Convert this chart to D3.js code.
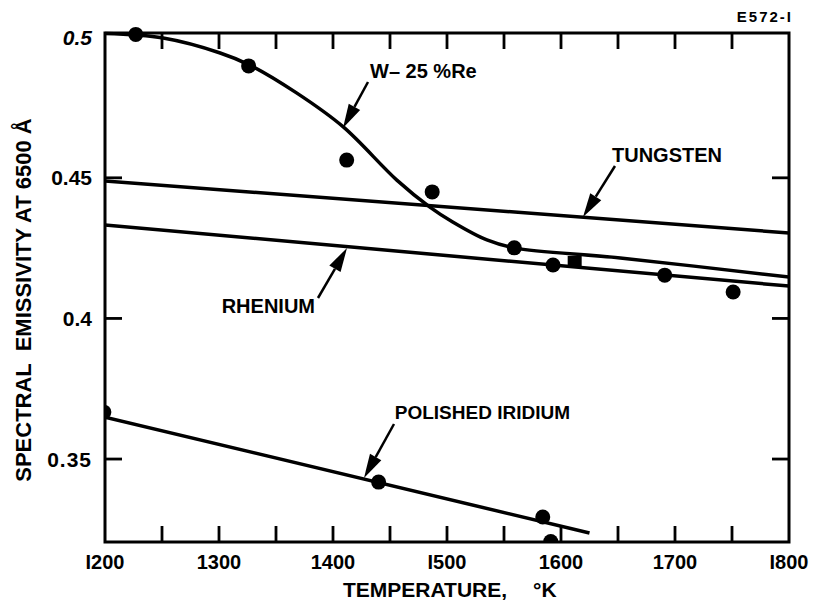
<!DOCTYPE html>
<html>
<head>
<meta charset="utf-8">
<script src="https://cdn.jsdelivr.net/npm/d3@7/dist/d3.min.js"></script>
<style>
  html, body { margin: 0; padding: 0; background: #fff; }
  svg { display: block; }
  text { font-family: "Liberation Sans", Arial, sans-serif; font-weight: bold; fill: #000; }
</style>
</head>
<body>
<svg id="chart" width="814" height="606"></svg>
<script>
// Axis ticks and labels
const xTickValues = [1200, 1300, 1400, 1500, 1600, 1700, 1800];
const xTickLabels = ["I200", "1300", "1400", "I500", "1600", "1700", "I800"];
const xMinorTicks = [1250, 1300, 1350, 1400, 1450, 1500, 1550, 1600, 1650, 1700, 1750];
const yTickValues = [0.5, 0.45, 0.4, 0.35];
const yTickLabels = ["0.5", "0.45", "0.4", "0.35"];

// Measured points (temperature K, emissivity)
const pointTemps = [1227, 1326, 1412, 1487, 1559, 1593, 1691, 1751];
const pointValues = [0.501, 0.4898, 0.4563, 0.445, 0.4251, 0.419, 0.4154, 0.4094];
const squareTemps = [1612];
const squareValues = [0.4201];
const iridiumTemps = [1199, 1440, 1584, 1591];
const iridiumValues = [0.3667, 0.3418, 0.3294, 0.3207];

// Fitted curve for W-25%Re
const wreCurveTemps = [1200, 1251, 1301, 1327, 1368, 1409, 1456, 1485, 1505, 1535, 1559, 1652, 1800];
const wreCurveValues = [0.5013, 0.4997, 0.4944, 0.4901, 0.4802, 0.4681, 0.4492, 0.4396, 0.4343, 0.4279, 0.4251, 0.4215, 0.4147];

// Straight-line fits
const tungstenTemps = [1200, 1800];
const tungstenValues = [0.4489, 0.4304];
const rheniumTemps = [1200, 1800];
const rheniumValues = [0.4332, 0.4115];
const iridiumLineTemps = [1200, 1625];
const iridiumLineValues = [0.3649, 0.3237];

const svg = d3.select("#chart");
const plotL = 105, plotR = 789, plotT = 33, plotB = 542;

const x = d3.scaleLinear().domain([1200, 1800]).range([plotL, plotR]);
const y = d3.scaleLinear().domain([0.3205, 0.5015]).range([plotB, plotT]);

svg.append("defs").append("clipPath").attr("id", "plotClip")
  .append("rect").attr("x", plotL).attr("y", plotT - 10)
  .attr("width", plotR - plotL).attr("height", plotB - plotT + 10);

const plot = svg.append("g");

// Inward ticks on all four sides
const tickLen = 16;
const ticks = svg.append("g").attr("stroke", "#000").attr("stroke-width", 2.8);
xMinorTicks.forEach(t => {
  ticks.append("line").attr("x1", x(t)).attr("x2", x(t)).attr("y1", plotT).attr("y2", plotT + tickLen);
  ticks.append("line").attr("x1", x(t)).attr("x2", x(t)).attr("y1", plotB).attr("y2", plotB - tickLen);
});
[0.45, 0.4, 0.35].forEach(v => {
  ticks.append("line").attr("x1", plotL).attr("x2", plotL + 17).attr("y1", y(v)).attr("y2", y(v));
  ticks.append("line").attr("x1", plotR).attr("x2", plotR - 17).attr("y1", y(v)).attr("y2", y(v));
});

// Frame
svg.append("rect").attr("x", plotL).attr("y", plotT)
  .attr("width", plotR - plotL).attr("height", plotB - plotT)
  .attr("fill", "none").attr("stroke", "#000").attr("stroke-width", 3);

// Lines
const zip = (a, b) => a.map((v, i) => [v, b[i]]);
const straight = d3.line().x(d => x(d[0])).y(d => y(d[1]));
const smooth = d3.line().x(d => x(d[0])).y(d => y(d[1])).curve(d3.curveCatmullRom);
const lines = plot.append("g").attr("clip-path", "url(#plotClip)")
  .attr("fill", "none").attr("stroke", "#000").attr("stroke-width", 3.5);
lines.append("path").attr("d", straight(zip(tungstenTemps, tungstenValues)));
lines.append("path").attr("d", straight(zip(rheniumTemps, rheniumValues)));
lines.append("path").attr("d", straight(zip(iridiumLineTemps, iridiumLineValues)));
lines.append("path").attr("d", smooth(zip(wreCurveTemps, wreCurveValues)));

// Points
const pts = plot.append("g").attr("clip-path", "url(#plotClip)").attr("fill", "#000");
pts.selectAll("circle.w").data(zip(pointTemps, pointValues)).join("circle").attr("class", "w")
  .attr("cx", d => x(d[0])).attr("cy", d => y(d[1])).attr("r", 7.5);
pts.selectAll("circle.ir").data(zip(iridiumTemps, iridiumValues)).join("circle").attr("class", "ir")
  .attr("cx", d => x(d[0])).attr("cy", d => y(d[1])).attr("r", 7.5);
pts.selectAll("rect.sq").data(zip(squareTemps, squareValues)).join("rect").attr("class", "sq")
  .attr("x", d => x(d[0]) - 7).attr("y", d => y(d[1]) - 6).attr("width", 14).attr("height", 12);

// Tick labels
const xl = svg.append("g").attr("font-size", 20).attr("text-anchor", "middle");
xTickValues.forEach((t, i) => {
  xl.append("text").attr("x", x(t)).attr("y", 569).text(xTickLabels[i]);
});
const yl = svg.append("g").attr("font-size", 21).attr("text-anchor", "end");
yTickValues.forEach((v, i) => {
  const tx = yl.append("text").attr("x", 92).attr("y", y(v) + 7.5).text(yTickLabels[i]);
  if (i === 0) tx.attr("font-style", "italic");
  if (i === 3) tx.attr("font-weight", "normal").attr("letter-spacing", 1);
});

// Axis titles
svg.append("text").attr("x", 343).attr("y", 597).attr("font-size", 21).text("TEMPERATURE,");
svg.append("text").attr("x", 533).attr("y", 597).attr("font-size", 21).text("°K");
svg.append("text").attr("transform", "translate(31,300) rotate(-90)")
  .attr("text-anchor", "middle").attr("font-size", 22).attr("xml:space", "preserve")
  .text("SPECTRAL  EMISSIVITY AT 6500 Å");
svg.append("text").attr("x", 793).attr("y", 22).attr("text-anchor", "end")
  .attr("font-size", 15).attr("letter-spacing", 2).text("E572-I");

// Annotations with arrows
function arrow(x1, y1, x2, y2) {
  const g = svg.append("g");
  const ang = Math.atan2(y2 - y1, x2 - x1);
  const hl = 24, hw = 6.5;
  const bx = x2 - hl * Math.cos(ang), by = y2 - hl * Math.sin(ang);
  g.append("line").attr("x1", x1).attr("y1", y1).attr("x2", bx).attr("y2", by)
    .attr("stroke", "#000").attr("stroke-width", 2.5);
  const px = -Math.sin(ang) * hw, py = Math.cos(ang) * hw;
  g.append("path").attr("d", `M${x2},${y2}L${bx + px},${by + py}L${bx - px},${by - py}Z`).attr("fill", "#000");
}
const ann = svg.append("g").attr("font-size", 20);
ann.append("text").attr("x", 370).attr("y", 78).attr("xml:space", "preserve").text("W– 25 %Re");
arrow(368, 82, 343, 128);
ann.append("text").attr("x", 612).attr("y", 162).text("TUNGSTEN");
arrow(615, 166, 583, 217);
ann.append("text").attr("x", 315).attr("y", 313).attr("text-anchor", "end").text("RHENIUM");
arrow(318, 298, 347, 248);
ann.append("text").attr("x", 570).attr("y", 419).attr("text-anchor", "end")
  .attr("font-size", 19).text("POLISHED IRIDIUM");
arrow(394, 424, 364, 478);
</script>
</body>
</html>
